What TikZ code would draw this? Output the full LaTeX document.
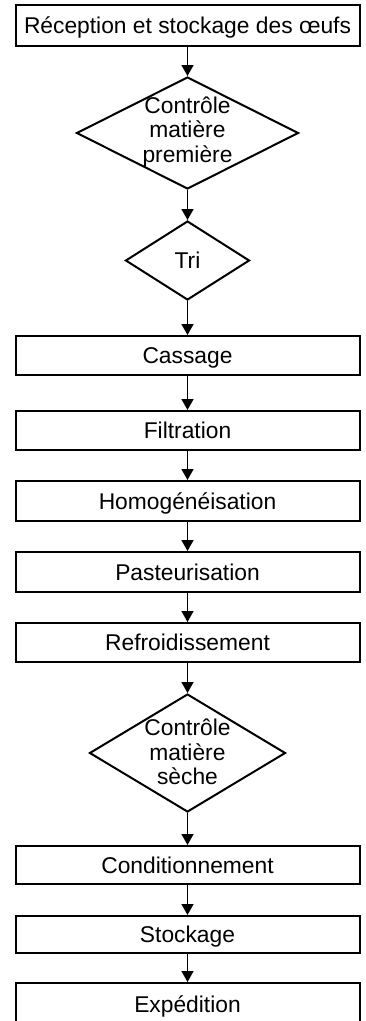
\documentclass[tikz,border=0pt]{standalone}
\usepackage{fontspec}
\setmainfont{Liberation Sans}
\usetikzlibrary{shapes.geometric,arrows.meta}
\begin{document}
\begin{tikzpicture}[x=1pt,y=-1pt,
  font=\fontsize{22.8}{24.5}\selectfont,
  stepbox/.style={draw=black,line width=2pt,minimum width=344pt,inner sep=0pt,text height=16.3pt,text depth=0pt,anchor=center},
  decision/.style={draw=black,line width=2pt,diamond,inner sep=0pt},
  lbl/.style={inner sep=0pt,align=center},
  flow/.style={line width=1.6pt,-{Triangle[width=12pt,length=11pt]}}]
\useasboundingbox (0,0) rectangle (365,1021);
\fill[white] (0,0) rectangle (365,1021);
\node[stepbox,minimum height=41pt] (b1) at (187.5,25.5) {Réception et stockage des œufs};
\node[decision,minimum width=222pt,minimum height=112pt] (d1) at (187.5,133) {};
\node[lbl] (t1) at ([yshift=1pt]d1.center) {Contrôle\\matière\\première};
\node[decision,minimum width=124pt,minimum height=79pt] (d2) at (187.5,260.5) {};
\node[lbl,text height=16.3pt,text depth=0pt] (t2) at (d2.center) {Tri};
\node[stepbox,minimum height=39pt] (b2) at (187.5,355.5) {Cassage};
\node[stepbox,minimum height=39pt] (b3) at (187.5,430.5) {Filtration};
\node[stepbox,minimum height=40pt] (b4) at (187.5,501) {Homogénéisation};
\node[stepbox,minimum height=40pt] (b5) at (187.5,572) {Pasteurisation};
\node[stepbox,minimum height=39pt] (b6) at (187.5,642.5) {Refroidissement};
\node[decision,minimum width=196pt,minimum height=118pt] (d3) at (187.5,753) {};
\node[lbl] (t3) at ([yshift=1pt]d3.center) {Contrôle\\matière\\sèche};
\node[stepbox,minimum height=38pt] (b7) at (187.5,865) {Conditionnement};
\node[stepbox,minimum height=37pt] (b8) at (187.5,934.5) {Stockage};
\node[stepbox,minimum height=42pt] (b9) at (187.5,1004) {Expédition};
\draw[flow] (b1) -- (d1);
\draw[flow] (d1) -- (d2);
\draw[flow] (d2) -- (b2);
\draw[flow] (b2) -- (b3);
\draw[flow] (b3) -- (b4);
\draw[flow] (b4) -- (b5);
\draw[flow] (b5) -- (b6);
\draw[flow] (b6) -- (d3);
\draw[flow] (d3) -- (b7);
\draw[flow] (b7) -- (b8);
\draw[flow] (b8) -- (b9);
\end{tikzpicture}
\end{document}
